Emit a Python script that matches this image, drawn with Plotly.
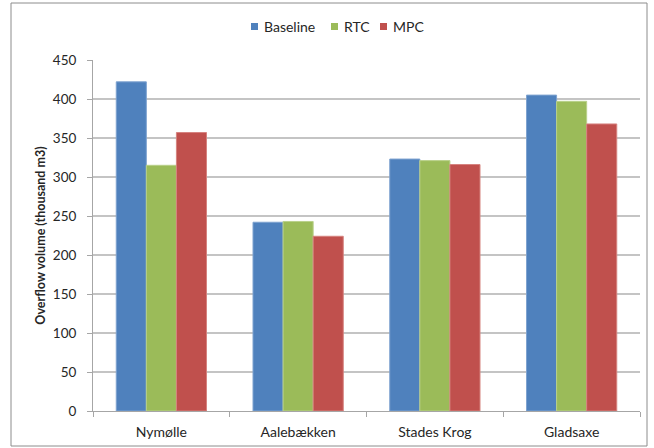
import plotly.graph_objects as go

# Overflow volumes per catchment for the three control strategies
catchments = ["Nymølle", "Aalebækken", "Stades Krog", "Gladsaxe"]
baseline = [422, 242, 323, 405]
rtc = [315, 243, 321, 397]
mpc = [357, 224, 316, 368]
y_ticks = [0, 50, 100, 150, 200, 250, 300, 350, 400, 450]

series = [
    ("Baseline", baseline, "#4F81BD", "#7FA3D0"),
    ("RTC", rtc, "#9BBB59", "#B9D08A"),
    ("MPC", mpc, "#C0504D", "#D6837F"),
]

W, H = 654, 448
ml, mr, mt, mb = 93, 14, 60, 37
pw, ph = W - ml - mr, H - mt - mb


def px_x(p):
    return (p - ml) / pw


def px_y(p):
    return 1 - (p - mt) / ph


font = "Lato, 'Open Sans', Arial, sans-serif"
text_col = "#262626"

fig = go.Figure()
for name, vals, color, edge in series:
    fig.add_trace(go.Bar(
        name=name, x=catchments, y=vals, showlegend=False,
        marker=dict(color=color, line=dict(color=edge, width=1)),
    ))

# Compact legend row above the plot: small square swatch + label
legend_left = [251, 331, 380]
shapes = []
annotations = []
for (name, _, color, _), x0 in zip(series, legend_left):
    shapes.append(dict(
        type="rect", xref="paper", yref="paper",
        x0=px_x(x0), x1=px_x(x0 + 7), y0=px_y(30), y1=px_y(23),
        fillcolor=color, line=dict(width=0),
    ))
    annotations.append(dict(
        text=name, xref="paper", yref="paper",
        x=px_x(x0 + 11), y=px_y(26.5), xanchor="left", yanchor="middle",
        showarrow=False, font=dict(size=14, color=text_col),
    ))

# Outer chart border
shapes.append(dict(
    type="rect", xref="paper", yref="paper",
    x0=px_x(11), x1=px_x(647), y0=px_y(446), y1=px_y(3),
    line=dict(color="#8c8c8c", width=1), fillcolor="rgba(0,0,0,0)", layer="below",
))

fig.update_layout(
    width=W, height=H,
    margin=dict(l=ml, r=mr, t=mt, b=mb),
    paper_bgcolor="white", plot_bgcolor="white",
    barmode="group", bargap=0.34, bargroupgap=0,
    font=dict(family=font, size=14, color=text_col),
    showlegend=False,
    xaxis=dict(
        automargin=False,
        showline=True, linecolor="#a6a6a6", linewidth=1,
        ticks="outside", tickson="boundaries", ticklen=5, tickcolor="#a6a6a6",
        showgrid=False, tickfont=dict(size=14), ticklabelstandoff=8,
    ),
    yaxis=dict(
        automargin=False,
        range=[0, 450], tickvals=y_ticks,
        showline=True, linecolor="#a6a6a6", linewidth=1,
        ticks="outside", ticklen=5, tickcolor="#a6a6a6",
        showgrid=True, gridcolor="#c4c4c4", gridwidth=1.5,
        zeroline=False, tickfont=dict(size=13.5), ticklabelstandoff=8,
        title=dict(text="<b>Overflow volume (thousand m3)</b>", font=dict(size=12.5), standoff=4),
    ),
    shapes=shapes,
    annotations=annotations,
)

fig.write_html("out.html")
